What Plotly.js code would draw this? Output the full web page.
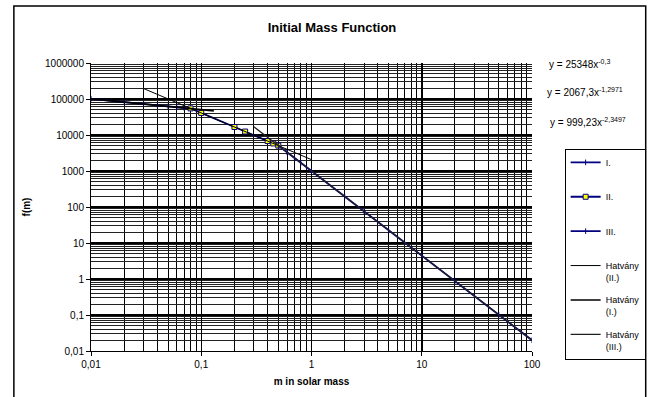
<!DOCTYPE html>
<html>
<head>
<meta charset="utf-8">
<script src="https://cdn.plot.ly/plotly-3.0.1.min.js"></script>
<style>html,body{margin:0;padding:0;background:#fff;}#chart{width:658px;height:397px;}</style>
</head>
<body>
<div id="chart"></div>
<script>
// Series I (m < 0.08)
const massI = [0.01, 0.02, 0.03, 0.04, 0.05, 0.06, 0.07, 0.08];
const fI = [100900, 81970, 72590, 66580, 62260, 58950, 56290, 54080];
// Series II (0.08 - 0.5)
const massII = [0.08, 0.1, 0.2, 0.25, 0.4, 0.45, 0.5];
const fII = [54800, 41000, 16680, 12480, 6785, 5824, 5080];
// Series III (0.5 - 100)
const massIII = [0.5, 0.6, 0.7, 0.8, 0.9, 1, 2, 3, 5, 10, 20, 50, 100];
const fIII = [5090, 3310, 2310, 1690, 1280, 999, 196, 75.6, 22.8, 4.46, 0.874, 0.101, 0.0199];
// Power-law trend lines (Hatvány)
const trendIIx = [0.03, 1];
const trendIIy = [195000, 2067];
const trendIx = [0.01, 0.13];
const trendIy = [100900, 46750];
const trendIIIx = [0.3, 100];
const trendIIIy = [16920, 0.0199];
// Axis tick labels
const xTickVals = [0.01, 0.1, 1, 10, 100];
const xTickText = ["0,01", "0,1", "1", "10", "100"];
const yTickVals = [0.01, 0.1, 1, 10, 100, 1000, 10000, 100000, 1000000];
const yTickText = ["0,01", "0,1", "1", "10", "100", "1000", "10000", "100000", "1000000"];
// Trend equations
const eqTexts = ["y = 25348x<sup>-0,3</sup>", "y = 2067,3x<sup>-1,2971</sup>", "y = 999,23x<sup>-2,3497</sup>"];

const navy = '#000080';
const traces = [
  {x: massI, y: fI, name: 'I.<br> ', mode: 'lines+markers', legendgroup: 'a',
   line: {color: navy, width: 1.8}, marker: {symbol: 'line-ns-open', size: 4, color: navy, line: {color: navy, width: 1}}},
  {x: massII, y: fII, name: 'II.<br> ', mode: 'lines+markers', legendgroup: 'b',
   line: {color: navy, width: 1.8}, marker: {symbol: 'square', size: 5, color: '#ffff00', line: {color: navy, width: 1}}},
  {x: massIII, y: fIII, name: 'III.<br> ', mode: 'lines+markers', legendgroup: 'c',
   line: {color: navy, width: 1.8}, marker: {symbol: 'line-ns-open', size: 4, color: navy, line: {color: navy, width: 1}}},
  {x: trendIIx, y: trendIIy, name: 'Hatvány<br>(II.)', mode: 'lines', legendgroup: 'd',
   line: {color: '#000000', width: 1}},
  {x: trendIx, y: trendIy, name: 'Hatvány<br>(I.)', mode: 'lines', legendgroup: 'e',
   line: {color: '#000000', width: 1.6}},
  {x: trendIIIx, y: trendIIIy, name: 'Hatvány<br>(III.)', mode: 'lines', legendgroup: 'f',
   line: {color: '#202020', width: 1.2}}
];

const ann = [
  {x: 585, y: 64, text: eqTexts[0]},
  {x: 591, y: 92, text: eqTexts[1]},
  {x: 594, y: 122, text: eqTexts[2]}
].map(a => ({xref: 'paper', yref: 'paper', x: (a.x - 91) / 446, y: (351 - a.y) / 288,
  xanchor: 'center', yanchor: 'middle', text: a.text, showarrow: false,
  font: {family: 'Arial, Liberation Sans, sans-serif', size: 10, color: '#000'}}));

const layout = {
  width: 658, height: 397,
  margin: {l: 91, r: 121, t: 63, b: 46},
  paper_bgcolor: '#fff', plot_bgcolor: '#fff',
  font: {family: 'Arial, Liberation Sans, sans-serif', size: 10, color: '#000'},
  title: {text: '<b>Initial Mass Function</b>', font: {size: 13, color: '#000'},
    xref: 'container', yref: 'container', x: 332 / 658, y: 1 - 27 / 397, xanchor: 'center', yanchor: 'middle'},
  xaxis: {type: 'log', range: [-2, 2], tickvals: xTickVals, ticktext: xTickText,
    showgrid: true, gridcolor: '#000', gridwidth: 1.5,
    minor: {showgrid: true, dtick: 'D1', gridcolor: '#000', gridwidth: 1, ticks: ''},
    ticks: 'outside', ticklen: 4, tickcolor: '#000', showline: true, linecolor: '#000', linewidth: 1,
    zeroline: false, mirror: false,
    title: {text: '<b>m in solar mass</b>', font: {size: 10}, standoff: 8}},
  yaxis: {type: 'log', range: [-2, 6], tickvals: yTickVals, ticktext: yTickText,
    showgrid: true, gridcolor: '#000', gridwidth: 1.5,
    minor: {showgrid: true, dtick: 'D1', gridcolor: '#222', gridwidth: 1, ticks: ''},
    ticks: 'outside', ticklen: 4, tickcolor: '#000', showline: true, linecolor: '#000', linewidth: 1,
    zeroline: false,
    title: {text: '<b>f(m)</b>', font: {size: 10}, standoff: 12}},
  showlegend: true,
  legend: {x: (570 - 91) / 446, y: (351 - 149) / 288, xanchor: 'left', yanchor: 'top',
    bordercolor: '#000', borderwidth: 1, bgcolor: '#fff', font: {size: 9},
    tracegroupgap: 8, valign: 'top', itemwidth: 30, traceorder: 'grouped'},
  annotations: ann,
  shapes: [
    {type: 'rect', xref: 'paper', yref: 'paper', x0: (13 - 91) / 446, x1: (652 - 91) / 446,
     y0: -0.3, y1: (351 - 6) / 288, line: {color: '#000', width: 1.5}, fillcolor: 'rgba(0,0,0,0)', layer: 'below'}
  ]
};

Plotly.newPlot('chart', traces, layout, {displayModeBar: false, staticPlot: true});
</script>
</body>
</html>
